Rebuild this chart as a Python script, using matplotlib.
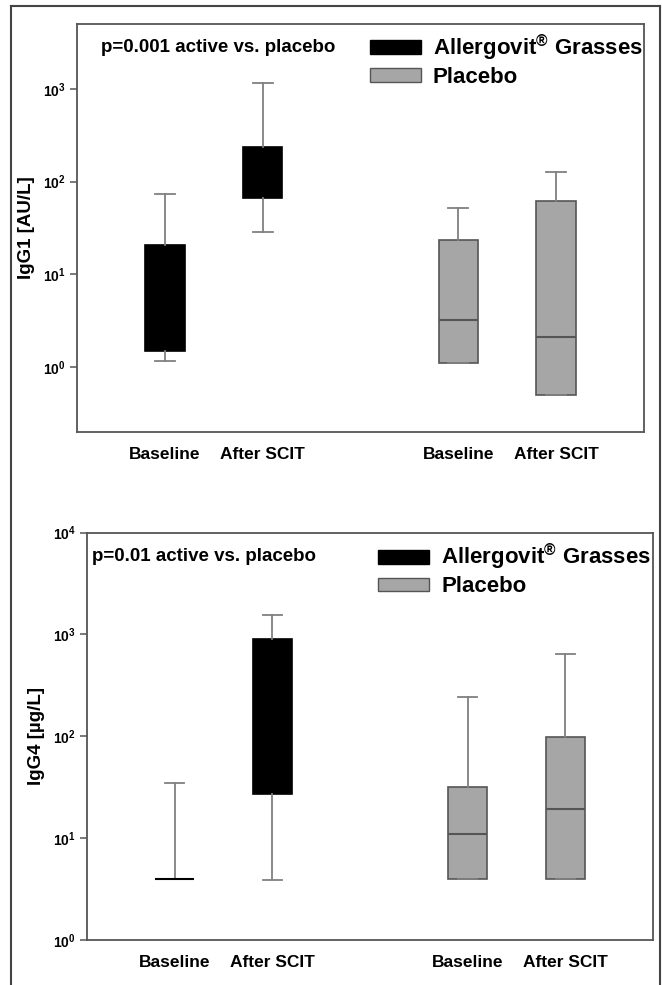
import numpy as np
import matplotlib
matplotlib.use('Agg')
import matplotlib.pyplot as plt
from matplotlib.patches import Patch
from matplotlib.lines import Line2D
from matplotlib.ticker import FixedLocator, FuncFormatter, NullLocator

plt.rcParams['font.family'] = ['Liberation Sans', 'DejaVu Sans']
plt.rcParams['font.weight'] = 'bold'
plt.rcParams['mathtext.fontset'] = 'custom'
plt.rcParams['mathtext.rm'] = 'Liberation Sans:bold'
plt.rcParams['mathtext.it'] = 'Liberation Sans:bold'
plt.rcParams['mathtext.bf'] = 'Liberation Sans:bold'

# groups: active baseline, active after, placebo baseline, placebo after
group_labels = ['Baseline', 'After SCIT', 'Baseline', 'After SCIT']
group_colors = ['black', 'black', '#a6a6a6', '#a6a6a6']

# IgG1 [AU/L]
igg1_lo = [1.17, 28.3, 1.1, 0.50]
igg1_q1 = [1.48, 66, 1.12, 0.50]
igg1_med = [5.0, 120, 3.2, 2.1]
igg1_q3 = [20.7, 236, 23.6, 62]
igg1_hi = [73, 1150, 52, 128]

# IgG4 [µg/L]
igg4_lo = [3.94, 3.9, 3.94, 3.94]
igg4_q1 = [3.94, 27, 3.94, 3.94]
igg4_med = [3.94, 150, 11.0, 19.2]
igg4_q3 = [3.94, 900, 31.5, 98]
igg4_hi = [34.7, 1550, 244, 641]

positions = [1, 2, 4, 5]
line_gray = '#808080'
edge_gray = '#555555'


def draw_panel(ax, lo, q1, med, q3, hi, ylim, decades, ylabel, ptext, ptext_x, leg_anchor):
    stats = []
    for a, b, c, d, e, lab in zip(lo, q1, med, q3, hi, group_labels):
        stats.append(dict(label=lab, whislo=a, q1=b, med=c, q3=d, whishi=e, fliers=[]))

    bp = ax.bxp(stats, positions=positions, widths=0.4, capwidths=0.2,
                patch_artist=True, showfliers=False,
                whiskerprops=dict(color=line_gray, lw=1.3),
                capprops=dict(color=line_gray, lw=1.3),
                boxprops=dict(lw=1.2),
                medianprops=dict(lw=1.5))
    for box, med_line, c in zip(bp['boxes'], bp['medians'], group_colors):
        box.set_facecolor(c)
        ec = 'black' if c == 'black' else edge_gray
        box.set_edgecolor(ec)
        med_line.set_color(ec)

    ax.set_yscale('log')
    ax.set_ylim(ylim)
    ax.set_xlim(0.1, 5.9)
    ax.yaxis.set_major_locator(FixedLocator([10.0 ** k for k in decades]))
    ax.yaxis.set_minor_locator(NullLocator())
    ax.yaxis.set_major_formatter(FuncFormatter(
        lambda v, p: r'$\mathbf{10^{%d}}$' % int(round(np.log10(v)))))
    ax.tick_params(axis='y', length=5, width=1.1, color=edge_gray, pad=3, labelsize=10)
    ax.tick_params(axis='x', length=0, pad=11, labelsize=12.5)
    for lab in ax.get_xticklabels():
        lab.set_fontweight('bold')
    for sp in ax.spines.values():
        sp.set_color(edge_gray)
        sp.set_linewidth(1.3)

    ax.set_ylabel(ylabel, fontsize=13.5, fontweight='bold')
    ax.yaxis.set_label_coords(-0.074, 0.5)

    ax.text(ptext_x, 0.942, ptext, transform=ax.transAxes, fontsize=13.5,
            fontweight='bold', va='center', ha='left')

    handles = [Patch(facecolor='black', edgecolor='black'),
               Patch(facecolor='#a6a6a6', edgecolor=edge_gray)]
    labels = [r'Allergovit$^{\circledR}$ Grasses', 'Placebo']
    ax.legend(handles, labels, loc='upper left', bbox_to_anchor=leg_anchor,
              frameon=False, handlelength=2.3, handleheight=0.55,
              handletextpad=0.55, labelspacing=0.18, borderpad=0, borderaxespad=0,
              prop=dict(weight='bold', size=16))


fig = plt.figure(figsize=(6.62, 9.85), dpi=100)

ax1 = fig.add_axes([77 / 662, 1 - 432 / 985, (644 - 77) / 662, (432 - 24) / 985])
ax2 = fig.add_axes([86.7 / 662, 1 - 940 / 985, (653.3 - 86.7) / 662, (940 - 532.5) / 985])

draw_panel(ax1, igg1_lo, igg1_q1, igg1_med, igg1_q3, igg1_hi, (0.2, 5000), [0, 1, 2, 3],
           'IgG1 [AU/L]', 'p=0.001 active vs. placebo', 0.042, (0.516, 0.979))
draw_panel(ax2, igg4_lo, igg4_q1, igg4_med, igg4_q3, igg4_hi, (1, 10000), [0, 1, 2, 3, 4],
           'IgG4 [µg/L]', 'p=0.01 active vs. placebo', 0.01, (0.514, 0.976))

# outer frame of the figure (open at the bottom)
frame_kw = dict(color='#444444', lw=1.5, transform=fig.transFigure)
fig.add_artist(Line2D([10.5 / 662, 10.5 / 662], [0, 1 - 6 / 985], **frame_kw))
fig.add_artist(Line2D([660 / 662, 660 / 662], [0, 1 - 6 / 985], **frame_kw))
fig.add_artist(Line2D([10.5 / 662, 660 / 662], [1 - 6 / 985, 1 - 6 / 985], **frame_kw))

fig.savefig('out.png', dpi=100)
